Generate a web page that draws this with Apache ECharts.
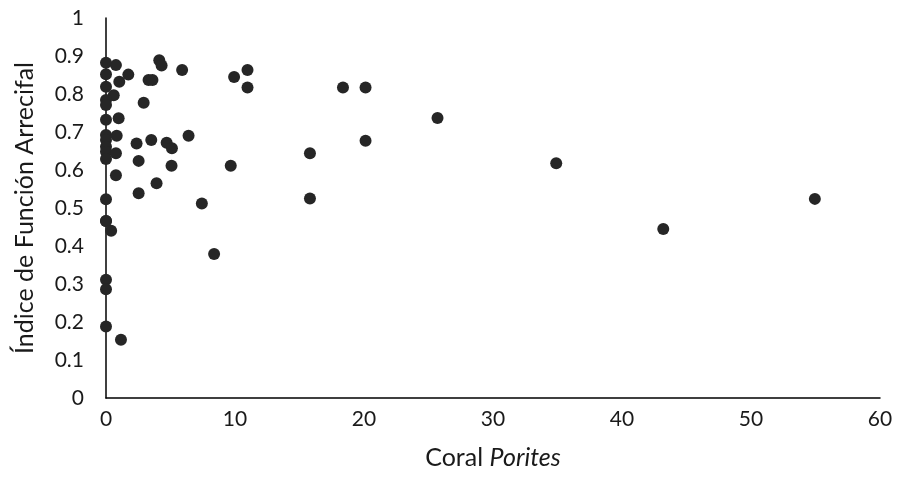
<!DOCTYPE html>
<html><head><meta charset="utf-8">
<script src="https://cdn.jsdelivr.net/npm/echarts@6/dist/echarts.min.js"></script>
<style>html,body{margin:0;padding:0;background:#fff}#c{width:897px;height:485px}</style>
</head><body><div id="c"></div>
<script>
const poritesX = [0,0.77,4.13,4.31,5.9,0,1.73,1.03,3.3,3.6,0,0.6,0,0,2.92,0,0.98,0,0,0.83,6.4,2.37,3.51,4.7,5.11,0,0,0.77,0,2.53,5.08,9.67,0.77,3.92,2.53,0,7.43,9.93,10.97,10.97,18.37,20.12,20.12,15.81,15.81,25.7,34.9,43.2,54.95,0,0,0.4,8.38,0,0,0,1.16];
const indiceY = [0.882,0.876,0.889,0.875,0.863,0.852,0.851,0.832,0.837,0.837,0.819,0.797,0.784,0.771,0.777,0.732,0.736,0.692,0.679,0.690,0.690,0.670,0.679,0.672,0.657,0.661,0.648,0.644,0.629,0.624,0.611,0.611,0.586,0.565,0.539,0.523,0.512,0.845,0.863,0.817,0.817,0.817,0.677,0.644,0.525,0.737,0.618,0.445,0.524,0.466,0.466,0.44,0.379,0.311,0.286,0.188,0.153];
const xTicks = [0,10,20,30,40,50,60];
const yTicks = [0,0.1,0.2,0.3,0.4,0.5,0.6,0.7,0.8,0.9,1];
const points = poritesX.map((x,i)=>[x,indiceY[i]]);
const font = 'Lato, "Open Sans", sans-serif';
const chart = echarts.init(document.getElementById('c'));
chart.setOption({
  animation:false,
  grid:{left:106,right:17,top:18,bottom:87,containLabel:false,outerBoundsMode:'none'},
  xAxis:{type:'value',min:0,max:60,interval:10,
    axisLine:{show:true,lineStyle:{color:'#000',width:1.5}},axisTick:{show:false},splitLine:{show:false},
    axisLabel:{color:'#1a1a1a',fontSize:21,fontFamily:font,margin:11,formatter:v=>xTicks.includes(v)?String(v):''},
    name:'{a|Coral }{b|Porites}',nameLocation:'middle',nameGap:47,
    nameTextStyle:{rich:{a:{fontSize:25,color:'#1a1a1a',fontFamily:font},b:{fontSize:25,color:'#1a1a1a',fontFamily:font,fontStyle:'italic'}}}},
  yAxis:{type:'value',min:0,max:1,interval:0.1,
    axisLine:{show:true,lineStyle:{color:'#000',width:1.5}},axisTick:{show:false},splitLine:{show:false},
    axisLabel:{color:'#1a1a1a',fontSize:21,fontFamily:font,margin:22,formatter:v=>{const r=Math.round(v*10)/10;return yTicks.includes(r)?String(r):'';}},
    name:'Índice de Función Arrecifal',nameLocation:'middle',nameGap:69,
    nameTextStyle:{fontSize:25,color:'#1a1a1a',fontFamily:font}},
  series:[{type:'scatter',data:points,symbol:'circle',symbolSize:12,itemStyle:{color:'#262626',opacity:1}}]
});
</script></body></html>
